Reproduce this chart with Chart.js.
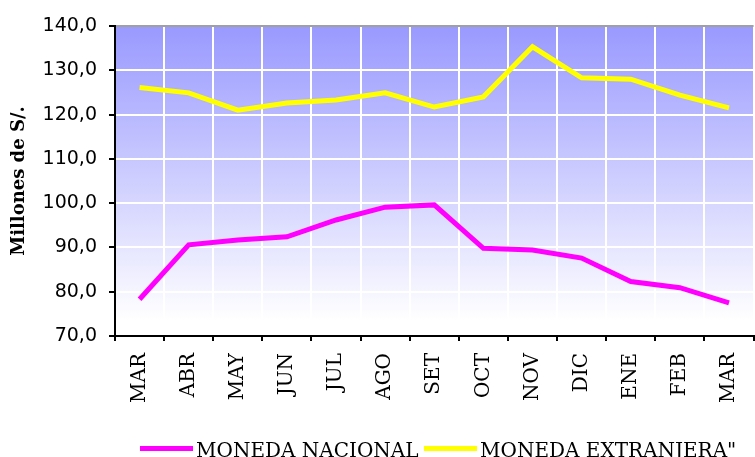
<!DOCTYPE html>
<html lang="es">
<head>
    <meta charset="UTF-8">
    <script src="https://cdn.jsdelivr.net/npm/chart.js@4.4.0/dist/chart.umd.min.js"></script>
    <title>Moneda nacional y extranjera</title>
    <style>
        html, body { margin: 0; padding: 0; background: #fff; overflow: hidden; }
        #wrap { position: relative; width: 755px; height: 457px; overflow: hidden; }
        #chart { position: absolute; left: 0; top: 0; }
        .sw { position: absolute; height: 5px; width: 53px; }
        .lt { position: absolute; font: 20px 'DejaVu Serif', serif; line-height: 20px; color: #000; white-space: nowrap; }
    </style>
</head>
<body>
    <div id="wrap">
        <canvas id="chart" width="765" height="457"></canvas>
    </div>

    <script>
        const meses = ['MAR', 'ABR', 'MAY', 'JUN', 'JUL', 'AGO', 'SET', 'OCT', 'NOV', 'DIC', 'ENE', 'FEB', 'MAR'];
        const monedaNacional = [78.3, 90.6, 91.7, 92.4, 96.2, 99.1, 99.6, 89.8, 89.4, 87.6, 82.3, 80.9, 77.5];
        const monedaExtranjera = [126.1, 124.9, 121.0, 122.6, 123.3, 124.9, 121.7, 124.0, 135.3, 128.3, 128.0, 124.4, 121.5];
        const yTickLabels = ['70,0', '80,0', '90,0', '100,0', '110,0', '120,0', '130,0', '140,0'];
        const seriesNames = ['MONEDA NACIONAL', 'MONEDA EXTRANJERA"'];
        const seriesColors = ['#ff00ff', '#ffff00'];

        // plot area fill: blue at the top fading to white
        const bgPlugin = {
            id: 'bg',
            beforeDraw(chart) {
                const { ctx, chartArea: a } = chart;
                const g = ctx.createLinearGradient(0, a.top, 0, a.bottom);
                g.addColorStop(0, '#9999ff');
                g.addColorStop(0.95, '#ffffff');
                ctx.save();
                ctx.fillStyle = g;
                ctx.fillRect(a.left, a.top, a.right - a.left, a.bottom - a.top);
                ctx.restore();
            }
        };

        new Chart(document.getElementById('chart'), {
            type: 'line',
            data: {
                labels: meses,
                datasets: [
                    { label: seriesNames[0], data: monedaNacional, borderColor: seriesColors[0], borderWidth: 5, pointRadius: 0, tension: 0 },
                    { label: seriesNames[1], data: monedaExtranjera, borderColor: seriesColors[1], borderWidth: 5, pointRadius: 0, tension: 0 }
                ]
            },
            options: {
                responsive: false,
                animation: false,
                devicePixelRatio: 1,
                layout: { padding: { top: 26, left: 0, right: 0, bottom: 0 } },
                plugins: { legend: { display: false }, tooltip: { enabled: false } },
                scales: {
                    x: {
                        offset: true,
                        grid: { offset: true, color: '#ffffff', lineWidth: 2, tickColor: '#000', tickLength: 5 },
                        border: { color: '#000', width: 2 },
                        ticks: {
                            minRotation: 90, maxRotation: 90, padding: 12,
                            color: '#000', font: { family: 'DejaVu Serif', size: 20 }
                        },
                        afterFit(scale) { scale.height = 121; }
                    },
                    y: {
                        min: 70, max: 140,
                        grid: {
                            color: ctx => ctx.tick && ctx.tick.value === 140 ? '#a0a0a0' : '#ffffff',
                            lineWidth: 2, tickColor: '#000', tickLength: 6
                        },
                        border: { color: '#000', width: 2 },
                        ticks: {
                            stepSize: 10, padding: 12, color: '#000',
                            font: { family: 'DejaVu Sans', size: 19 },
                            callback: (v, i) => yTickLabels[i]
                        },
                        title: {
                            display: true, text: 'Millones de S/.', color: '#000',
                            font: { family: 'DejaVu Serif', size: 18, weight: 'bold' },
                            padding: { top: 9, bottom: 0 }
                        },
                        afterFit(scale) { scale.width = 115; }
                    }
                }
            },
            plugins: [bgPlugin]
        });

        // legend under the chart
        const wrap = document.getElementById('wrap');
        const legendPos = [{ sw: 140, tx: 196 }, { sw: 424, tx: 480 }];
        seriesNames.forEach((name, i) => {
            const s = document.createElement('div');
            s.className = 'sw';
            s.style.left = legendPos[i].sw + 'px';
            s.style.top = '446px';
            s.style.background = seriesColors[i];
            wrap.appendChild(s);
            const t = document.createElement('div');
            t.className = 'lt';
            t.style.left = legendPos[i].tx + 'px';
            t.style.top = '440px';
            t.textContent = name;
            wrap.appendChild(t);
        });
    </script>
</body>
</html>
